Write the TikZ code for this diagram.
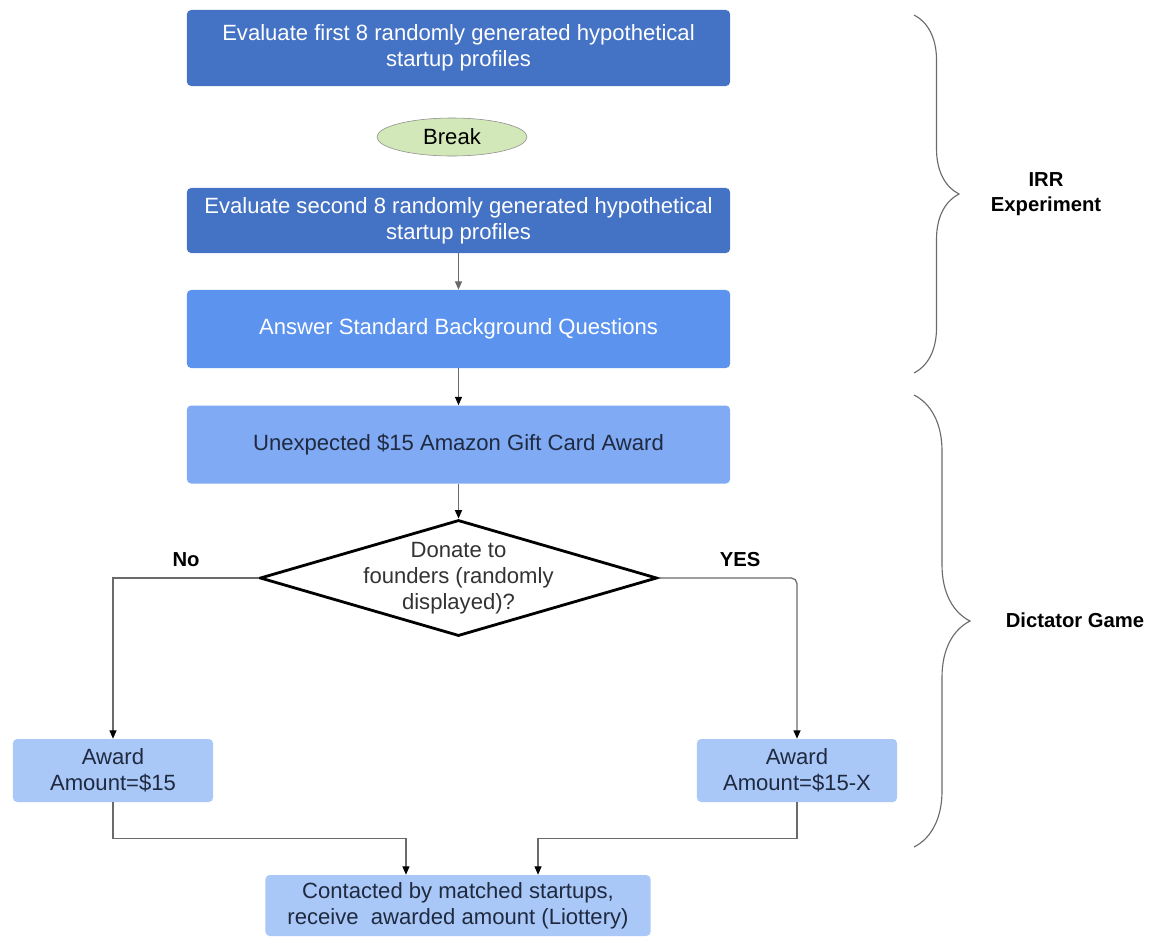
\documentclass[tikz,border=0pt]{standalone}
\usepackage{fontspec}
\setmainfont{Liberation Sans}
\usepackage{tikz}
\usetikzlibrary{positioning, shapes, arrows.meta, calc, decorations.pathreplacing}

\definecolor{darkstep}{HTML}{4472C4}
\definecolor{midstep}{HTML}{5B93EF}
\definecolor{lightstep}{HTML}{80AAF3}
\definecolor{palestep}{HTML}{A9C8F7}
\definecolor{breakgreen}{HTML}{D2E8B8}
\definecolor{linegray}{HTML}{6A6A6A}
\definecolor{inktext}{HTML}{1F2A40}

\begin{document}
\begin{tikzpicture}[x=0.025cm, y=-0.025cm,
  font=\fontsize{15.7}{18.6}\selectfont,
  box/.style={rectangle, rounded corners=3pt, align=center, inner sep=0pt, minimum width=13.575cm},
  smallbox/.style={rectangle, rounded corners=3pt, align=center, inner sep=0pt, fill=palestep, text=inktext},
  flow/.style={draw=linegray, line width=0.9pt, -{Triangle[length=6pt,width=5pt,color=black]}},
  bracket/.style={draw=linegray, line width=0.8pt, decorate},
  tag/.style={font=\fontsize{14.4}{18}\selectfont\bfseries, align=center}]
  \useasboundingbox (0,0) rectangle (1163,936);

  % IRR part
  \node[box, fill=darkstep, text=white, minimum height=1.9cm] (eval1) at (458.5,48)
    {Evaluate first 8 randomly generated hypothetical\\startup profiles};
  \node[ellipse, draw=black!45, fill=breakgreen, minimum width=3.75cm, minimum height=0.95cm, inner sep=0pt] (pause) at (452,137) {Break};
  \node[box, fill=darkstep, text=white, minimum height=1.625cm] (eval2) at (458.5,220.5)
    {Evaluate second 8 randomly generated hypothetical\\startup profiles};
  \node[box, fill=midstep, text=white, minimum height=1.95cm] (background) at (458.5,329)
    {Answer Standard Background Questions};

  % Dictator game
  \node[box, fill=lightstep, text=inktext, minimum height=1.95cm] (giftcard) at (458.5,444.5)
    {Unexpected \$15 Amazon Gift Card Award};
  \node[diamond, draw=black, line width=2pt, fill=white, minimum width=9.925cm, minimum height=2.9cm, inner sep=0pt,
    label={[align=center, text=black!80]center:Donate to\\founders (randomly\\displayed)?}] (donate) at (458.5,578) {};
  \node[smallbox, minimum width=5cm, minimum height=1.575cm] (awardno) at (113,770.5) {Award\\Amount=\$15};
  \node[smallbox, minimum width=5cm, minimum height=1.575cm] (awardyes) at (797,770.5) {Award\\Amount=\$15-X};
  \node[smallbox, minimum width=9.625cm, minimum height=1.525cm] (contact) at (458,905.5)
    {Contacted by matched startups,\\receive~ awarded amount (Liottery)};

  \node[tag] (nolabel) at (186,560) {No};
  \node[tag] (yeslabel) at (740,560) {YES};

  % connectors
  \draw[flow, -{Triangle[length=6pt,width=5pt,color=linegray]}] (eval2) -- (background);
  \draw[flow] (background) -- (giftcard);
  \draw[flow] (giftcard) -- (donate);
  \draw[flow] (donate.west) -| (awardno.north);
  \draw[flow, rounded corners=4pt] (donate.east) -| (awardyes.north);
  \draw[flow] (awardno.south) -- ++(0,36) -| ([xshift=-1.3cm]contact.north);
  \draw[flow] (awardyes.south) -- ++(0,36) -| ([xshift=2cm]contact.north);

  % braces
  \draw[bracket, decoration={brace, amplitude=1.125cm}] (914,15) -- (914,373);
  \node[tag] (irr) at (1046,194) {IRR\\Experiment};
  \draw[bracket, decoration={brace, amplitude=1.4cm}] (914,395) -- (914,847);
  \node[tag] (dictator) at (1075,620) {Dictator Game};
\end{tikzpicture}
\end{document}
